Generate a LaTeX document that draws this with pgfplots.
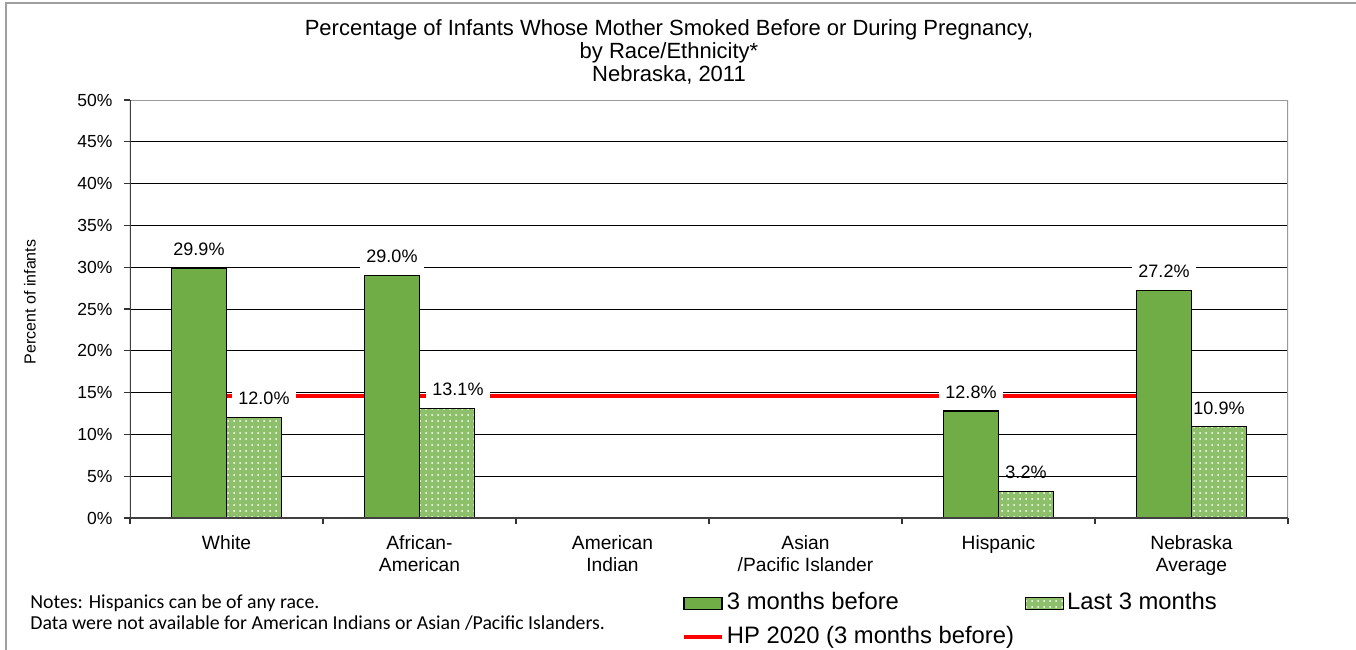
\documentclass[border=0pt]{standalone}
\usepackage{pgfplots}
\pgfplotsset{compat=1.18}
\usepackage{pgfplotstable}
\usepackage{fontspec}
\setmainfont{Liberation Sans}
\newfontfamily\notesfont{Carlito}
\usetikzlibrary{patterns}
\definecolor{bargreen}{RGB}{112,173,71}
\definecolor{lightgreen}{RGB}{142,192,108}
\pgfplotsset{
  rectlegend/.style={legend image code/.code={\draw[##1] (0pt,-3pt) rectangle (19pt,3pt);}},
  linelegend/.style={legend image code/.code={\draw[##1] (0pt,0pt) -- (19pt,0pt);}},
}

\pgfplotstableread{
x y
0 29.9
1 29.0
4 12.8
5 27.2
}\before
\pgfplotstableread{
x y dx fo
0 12.0 5 1
1 13.1 5.5 1
4 3.2 0 0
5 10.9 0 0
}\lastthree
\pgfplotstableread{
x y
0 14.6
1 14.6
2 14.6
3 14.6
4 14.6
5 14.6
}\hpline

\begin{document}
\begin{tikzpicture}
\useasboundingbox (-65pt,-65.5pt) rectangle (613pt,259pt);
\fill[white] (-65pt,-65.5pt) rectangle (613pt,259pt);
\draw[gray!75, line width=0.9pt] (-62pt,-66pt) -- (-62pt,257.5pt) -- (614pt,257.5pt);
\node[font=\fontsize{11}{11.6}\selectfont, align=center] at (269.5pt,233pt)
  {Percentage of Infants Whose Mother Smoked Before or During Pregnancy,\\by Race/Ethnicity*\\Nebraska, 2011};
\node[font=\notesfont\fontsize{9.9}{11}\selectfont, anchor=base west, inner sep=0pt] at (-50pt,-45.2pt) {Notes: Hispanics can be of any race.};
\node[font=\notesfont\fontsize{9.9}{11}\selectfont, anchor=base west, inner sep=0pt] at (-50pt,-55.7pt) {Data were not available for American Indians or Asian /Pacific Islanders.};
\begin{axis}[
  at={(0pt,0pt)}, anchor=south west,
  width=579pt, height=209pt, scale only axis,
  xmin=-0.5, xmax=5.5, ymin=0, ymax=50,
  /pgf/number format/assume math mode=true,
  ytick={0,5,...,50},
  yticklabel={\pgfmathprintnumber{\tick}\%},
  yticklabel style={font=\fontsize{8.75}{10}\selectfont, xshift=-2.5pt},
  xtick={0,1,2,3,4,5},
  xticklabels={White, African-\\American, American\\Indian, Asian\\/Pacific Islander, Hispanic, Nebraska\\Average},
  xticklabel style={align=center, font=\fontsize{9.6}{11}\selectfont, yshift=-2.5pt},
  minor xtick={-0.5,0.5,1.5,2.5,3.5,4.5,5.5},
  major x tick style={draw=none},
  tick style={black!80, line width=0.6pt},
  tick align=outside, tick pos=left,
  major tick length=2.75pt, minor tick length=3pt,
  ymajorgrids, grid style={black, line width=0.5pt},
  axis line style={draw=none},
  ylabel={Percent of infants},
  ylabel style={at={(axis description cs:-0.0864,0.517)}, anchor=center, font=\fontsize{8}{9}\selectfont},
  legend columns=2,
  legend cell align=left,
  legend style={draw=none, fill=none, at={(axis description cs:0.4763,-0.1634)}, anchor=north west,
    font=\fontsize{11.9}{13}\selectfont, inner sep=0pt,
    nodes={inner xsep=1.5pt, inner ysep=2.75pt, text height=8.7pt, text depth=2.5pt},
    /tikz/every even column/.append style={column sep=4pt}},
]
\addplot[red, line width=2pt, forget plot] table[x=x,y=y] {\hpline};

\addplot[ybar, bar width=27.5pt, bar shift=-13.75pt, fill=bargreen, draw=black, line width=0.6pt,
  rectlegend,
  nodes near coords={\pgfmathprintnumber[fixed,fixed zerofill,precision=1]{\pgfplotspointmeta}\%},
  every node near coord/.append style={fill=white, text=black, inner sep=3pt, xshift=-13.75pt, yshift=3pt,
    font=\fontsize{9}{10}\selectfont},
] table[x=x,y=y] {\before};
\addlegendentry{3 months before}

\addplot[ybar, bar width=27.5pt, bar shift=13.75pt, fill=lightgreen, draw=black, line width=0.6pt,
  postaction={pattern=dots, pattern color=white},
  rectlegend,
  nodes near coords={\pgfmathprintnumber[fixed,fixed zerofill,precision=1]{\pgfplotspointmeta}\%},
  visualization depends on={\thisrow{dx} \as \dx},
  visualization depends on={\thisrow{fo} \as \fo},
  every node near coord/.append style={xshift=13.75pt+\dx pt, fill=white, fill opacity=\fo, text opacity=1, text=black,
    inner sep=3pt, yshift=3pt, font=\fontsize{9}{10}\selectfont},
] table[x=x,y=y] {\lastthree};
\addlegendentry{Last 3 months}

\addlegendimage{red, line width=2pt, linelegend}
\addlegendentry{HP 2020 (3 months before)}

\draw[gray!80, line width=0.7pt] (rel axis cs:0,1) -- (rel axis cs:1,1) -- (rel axis cs:1,0);
\draw[black!75, line width=0.8pt] (rel axis cs:0,1) -- (rel axis cs:0,0) -- (rel axis cs:1,0);
\end{axis}
\end{tikzpicture}
\end{document}
